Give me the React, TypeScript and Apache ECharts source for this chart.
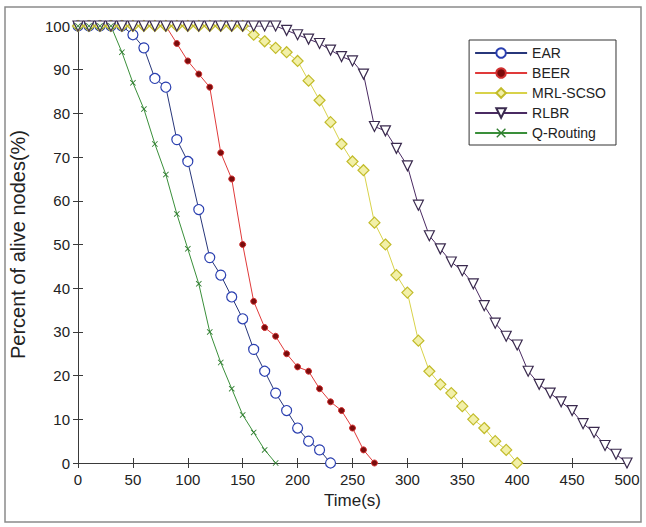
import React, { useEffect, useRef } from "react";
import * as echarts from "echarts";

const earTime = [0, 10, 20, 30, 40, 50, 60, 70, 80, 90, 100, 110, 120, 130, 140, 150, 160, 170, 180, 190, 200, 210, 220, 230];
const earValues = [100, 100, 100, 100, 100, 98, 95, 88, 86, 74, 69, 58, 47, 43, 38, 33, 26, 21, 16, 12, 8, 5, 3, 0];

const beerTime = [0, 10, 20, 30, 40, 50, 60, 70, 80, 90, 100, 110, 120, 130, 140, 150, 160, 170, 180, 190, 200, 210, 220, 230, 240, 250, 260, 270];
const beerValues = [100, 100, 100, 100, 100, 100, 100, 100, 100, 96, 92, 89, 86, 71, 65, 50, 37, 31, 29, 25, 22, 21, 17, 14, 12, 8, 3, 0];

const mrlTime = [0, 10, 20, 30, 40, 50, 60, 70, 80, 90, 100, 110, 120, 130, 140, 150, 160, 170, 180, 190, 200, 210, 220, 230, 240, 250, 260, 270, 280, 290, 300, 310, 320, 330, 340, 350, 360, 370, 380, 390, 400];
const mrlValues = [100, 100, 100, 100, 100, 100, 100, 100, 100, 100, 100, 100, 100, 100, 100, 100, 98, 96.5, 95, 94, 92, 87.5, 83, 78, 73, 69, 67, 55, 50, 43, 39, 28, 21, 18, 16, 13, 10, 8, 5, 3, 0];

const rlbrTime = [0, 10, 20, 30, 40, 50, 60, 70, 80, 90, 100, 110, 120, 130, 140, 150, 160, 170, 180, 190, 200, 210, 220, 230, 240, 250, 260, 270, 280, 290, 300, 310, 320, 330, 340, 350, 360, 370, 380, 390, 400, 410, 420, 430, 440, 450, 460, 470, 480, 490, 500];
const rlbrValues = [100, 100, 100, 100, 100, 100, 100, 100, 100, 100, 100, 100, 100, 100, 100, 100, 100, 100, 100, 99, 98, 97, 96, 94.5, 93, 92, 89, 77, 76, 72, 68, 59, 52, 49, 46, 44, 41, 36, 32, 29, 27, 21, 18, 16, 14, 12, 9, 7, 4, 2, 0];

const qTime = [0, 10, 20, 30, 40, 50, 60, 70, 80, 90, 100, 110, 120, 130, 140, 150, 160, 170, 180];
const qValues = [100, 100, 100, 100, 94, 87, 81, 73, 66, 57, 49, 41, 30, 23, 17, 11, 7, 3, 0];

const seriesNames = ["EAR", "BEER", "MRL-SCSO", "RLBR", "Q-Routing"];

const xTicks = { min: 0, max: 500, interval: 50 };
const yTicks = { min: 0, max: 100, interval: 10 };

const pair = (t: number[], v: number[]) => t.map((x, i) => [x, v[i]]);

const FONT = "Liberation Sans, Arial, sans-serif";
const AXIS = "#3a3a3a";

export default function App() {
  const ref = useRef<HTMLDivElement>(null);
  useEffect(() => {
    if (!ref.current) return;
    const chart = echarts.init(ref.current, undefined, { renderer: "svg" });
    const xCross = "path://M0,1 L1,0 L5,4 L9,0 L10,1 L6,5 L10,9 L9,10 L5,6 L1,10 L0,9 L4,5 Z";
    const axisCommon = {
      axisLine: { show: true, lineStyle: { color: AXIS, width: 1 } },
      axisTick: { show: true, inside: true, length: 5, lineStyle: { color: AXIS } },
      splitLine: { show: false },
    };
    chart.setOption({
      animation: false,
      backgroundColor: "#ffffff",
      textStyle: { fontFamily: FONT },
      graphic: [
        {
          type: "rect",
          shape: { x: 5, y: 7, width: 636, height: 515 },
          style: { fill: "none", stroke: "#8a8a8a", lineWidth: 1.5 },
          silent: true,
        },
      ],
      grid: { left: 77, right: 19, top: 26, bottom: 64 },
      legend: {
        orient: "vertical",
        right: 30,
        top: 40,
        backgroundColor: "#ffffff",
        borderColor: "#333333",
        borderWidth: 1,
        borderRadius: 0,
        padding: [6, 10, 5, 5],
        itemWidth: 52,
        itemHeight: 12,
        itemGap: 6,
        textStyle: { fontFamily: FONT, fontSize: 14, color: "#222" },
        data: seriesNames,
      },
      xAxis: [
        {
          type: "value",
          ...xTicks,
          ...axisCommon,
          name: "Time(s)",
          nameLocation: "middle",
          nameGap: 25,
          nameTextStyle: { fontFamily: FONT, fontSize: 17, color: "#222" },
          axisLabel: { fontFamily: FONT, fontSize: 15, color: "#222", margin: 9 },
        },
        {
          type: "value",
          position: "top",
          ...xTicks,
          ...axisCommon,
          axisLabel: { show: false },
        },
      ],
      yAxis: [
        {
          type: "value",
          ...yTicks,
          ...axisCommon,
          name: "Percent of alive nodes(%)",
          nameLocation: "middle",
          nameGap: 50,
          nameRotate: 90,
          nameTextStyle: { fontFamily: FONT, fontSize: 20, color: "#222" },
          axisLabel: { fontFamily: FONT, fontSize: 15, color: "#222", margin: 8 },
        },
        {
          type: "value",
          position: "right",
          ...yTicks,
          ...axisCommon,
          axisLabel: { show: false },
        },
      ],
      series: [
        {
          name: "EAR",
          type: "line",
          data: pair(earTime, earValues),
          symbol: "circle",
          symbolSize: 10,
          showAllSymbol: true,
          lineStyle: { color: "#27367a", width: 1 },
          itemStyle: { color: "#ffffff", borderColor: "#2a3fb0", borderWidth: 1.2 },
        },
        {
          name: "BEER",
          type: "line",
          data: pair(beerTime, beerValues),
          symbol: "circle",
          symbolSize: 6,
          showAllSymbol: true,
          lineStyle: { color: "#e03a3a", width: 1 },
          itemStyle: { color: "#7a0c0c", borderColor: "#d03030", borderWidth: 1 },
        },
        {
          name: "MRL-SCSO",
          type: "line",
          data: pair(mrlTime, mrlValues),
          symbol: "diamond",
          symbolSize: 11,
          showAllSymbol: true,
          lineStyle: { color: "#d8d24a", width: 1 },
          itemStyle: { color: "#f2f0a8", borderColor: "#c2bb2a", borderWidth: 1.2 },
        },
        {
          name: "RLBR",
          type: "line",
          data: pair(rlbrTime, rlbrValues),
          symbol: "triangle",
          symbolRotate: 180,
          symbolSize: 10,
          showAllSymbol: true,
          lineStyle: { color: "#4a2a62", width: 1 },
          itemStyle: { color: "#ffffff", borderColor: "#3a2a4e", borderWidth: 1.2 },
        },
        {
          name: "Q-Routing",
          type: "line",
          data: pair(qTime, qValues),
          symbol: xCross,
          symbolSize: 6,
          showAllSymbol: true,
          lineStyle: { color: "#3a8f3a", width: 1 },
          itemStyle: { color: "#2f7d2f" },
        },
      ],
    });
    return () => chart.dispose();
  }, []);
  return (
    <div
      ref={ref}
      style={{ position: "fixed", left: 0, top: 0, width: 646, height: 527 }}
    />
  );
}
